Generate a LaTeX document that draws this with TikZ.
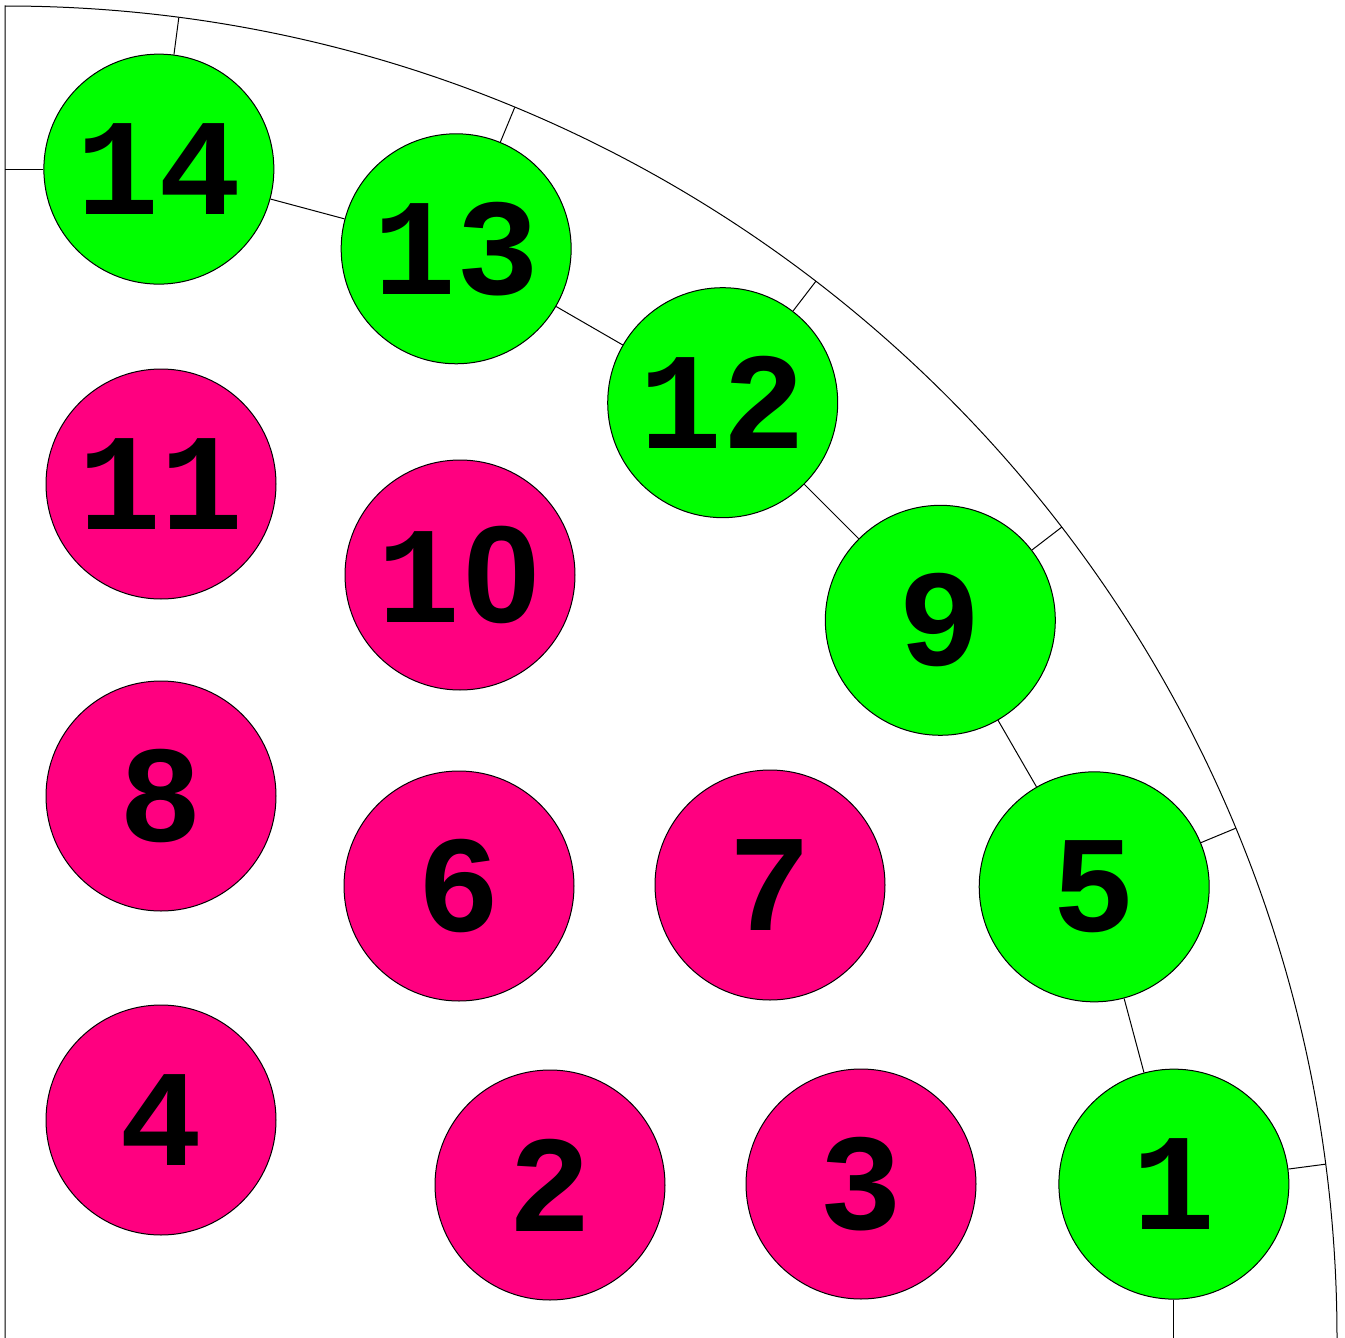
\documentclass[tikz,border=0pt]{standalone}
\usepackage{fontspec}
\newfontfamily\digitfont{Liberation Mono}
\newfontfamily\zerofont{Liberation Sans}
\usetikzlibrary{calc}
\definecolor{grn}{RGB}{0,255,0}
\definecolor{pnk}{RGB}{255,0,128}
\tikzset{
  disc/.style={circle, draw=black, line width=1pt, minimum size=230pt, inner sep=0pt,
    font=\digitfont\bfseries\fontsize{138}{140}\selectfont, text=black},
  gdisc/.style={disc, fill=grn},
  pdisc/.style={disc, fill=pnk},
  thin/.style={line width=1pt, draw=black}
}
\newcommand{\dg}[1]{\raisebox{-5pt}{#1}}
\newcommand{\plainzero}{\makebox[0.6em]{\zerofont\bfseries 0}}
\begin{document}
\begin{tikzpicture}[x=1pt,y=1pt]
\useasboundingbox (0,0) rectangle (1345,-1338);
\coordinate (O) at (5,-1338);
% outer frame
\draw[thin] (5,-1338) -- (5,-6) arc[start angle=90, end angle=0, radius=1332pt];
% arc tick coordinates
\foreach \n/\a in {1/7.5,5/22.5,9/37.5,12/52.5,13/67.5,14/82.5}{
  \coordinate (t\n) at ($(O)+(\a:1332pt)$);
}
% green ring
\node[gdisc] (g1)  at ($(O)+(7.5:1179pt)$)  {\dg{1}};
\node[gdisc] (g5)  at ($(O)+(22.5:1179pt)$) {\dg{5}};
\node[gdisc] (g9)  at ($(O)+(37.5:1179pt)$) {\dg{9}};
\node[gdisc] (g12) at ($(O)+(52.5:1179pt)$) {\dg{12}};
\node[gdisc] (g13) at ($(O)+(67.5:1179pt)$) {\dg{13}};
\node[gdisc] (g14) at ($(O)+(82.5:1179pt)$) {\dg{14}};
\coordinate (left14) at (O |- g14);
\coordinate (bot1) at (g1 |- O);
% pink inner
\node[pdisc] (p11) at (161,-484)  {\dg{11}};
\node[pdisc] (p10) at (460,-575)  {\dg{1\plainzero}};
\node[pdisc] (p8)  at (161,-796)  {\dg{8}};
\node[pdisc] (p6)  at (459,-886)  {\dg{6}};
\node[pdisc] (p7)  at (770,-885)  {\dg{7}};
\node[pdisc] (p4)  at (161,-1120) {\dg{4}};
\node[pdisc] (p2)  at (550,-1185) {\dg{2}};
\node[pdisc] (p3)  at (861,-1184) {\dg{3}};
% connectors
\draw[thin] (g1) -- (g5);
\draw[thin] (g5) -- (g9);
\draw[thin] (g9) -- (g12);
\draw[thin] (g12) -- (g13);
\draw[thin] (g13) -- (g14);
\foreach \n in {1,5,9,12,13,14}{
  \draw[thin] (g\n) -- (t\n);
}
\draw[thin] (g14) -- (left14);
\draw[thin] (g1) -- (bot1);
\end{tikzpicture}
\end{document}
